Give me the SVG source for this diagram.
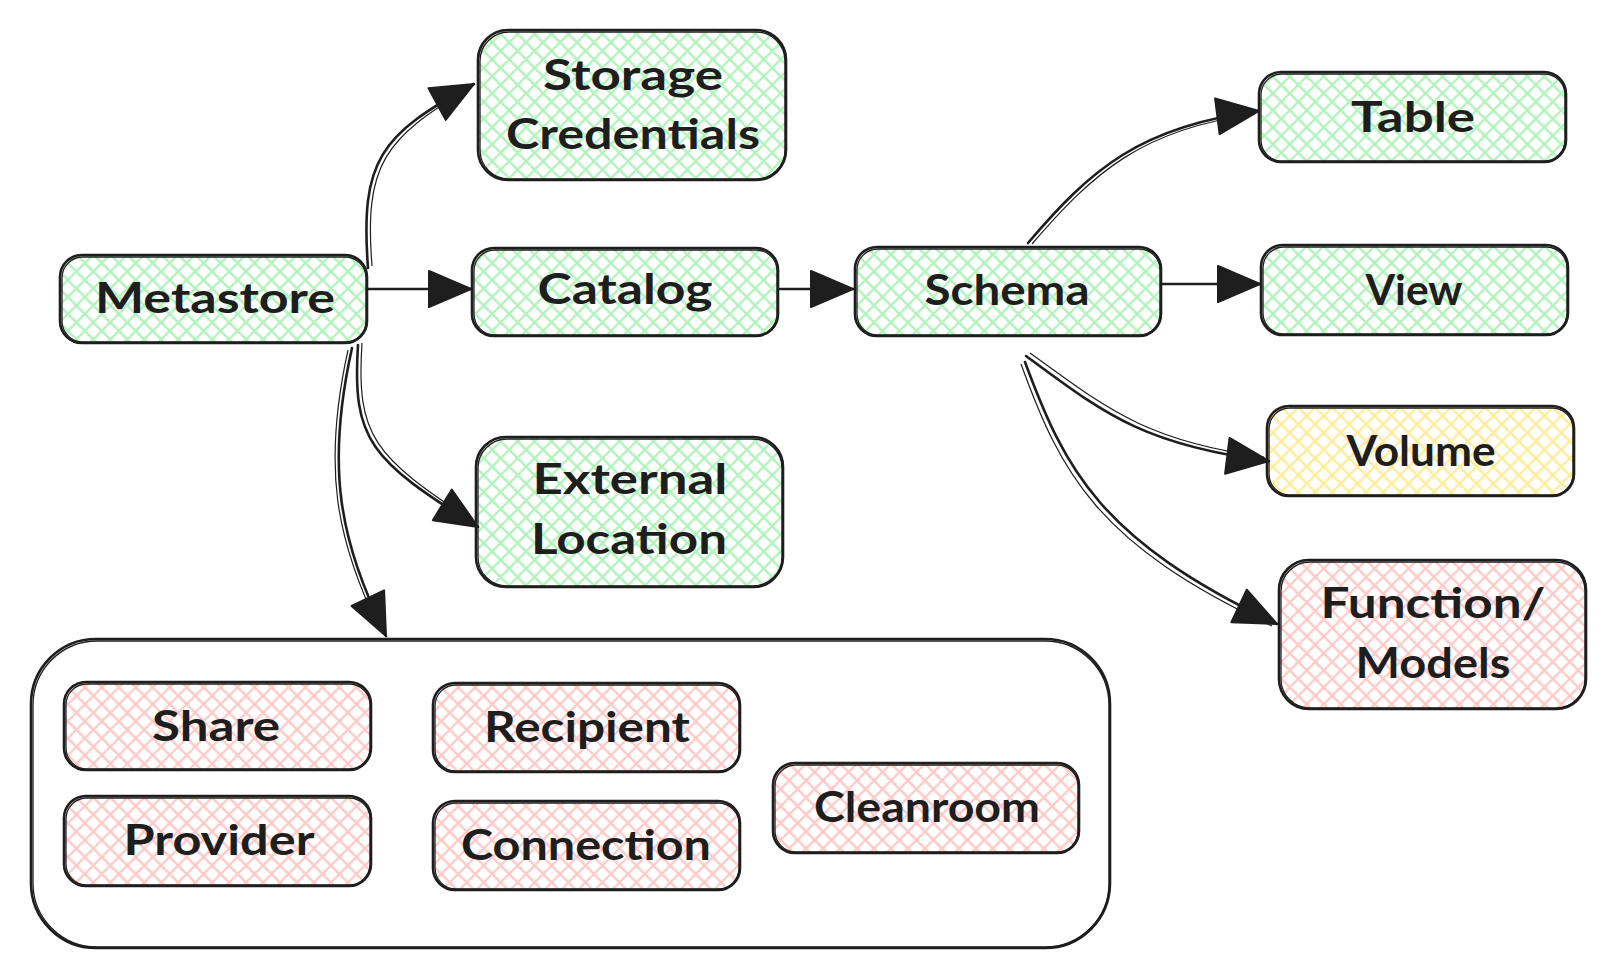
<svg xmlns="http://www.w3.org/2000/svg" width="1615" height="979" viewBox="0 0 1615 979">
<style>
.box{stroke:#1e1e1e;stroke-width:2.6;stroke-linejoin:round}
.box2{fill:none;stroke:#1e1e1e;stroke-width:1.3}
.lbl{font-family:Lato,"Noto Sans",sans-serif;font-weight:700;font-size:42px;fill:#1e1e1e;text-anchor:middle}
.conn{fill:none;stroke:#1e1e1e;stroke-width:2.6;stroke-linecap:round}
.conn2{fill:none;stroke:#1e1e1e;stroke-width:1.2}
</style>
<defs>
<pattern id="hg" patternUnits="userSpaceOnUse" width="12" height="12" patternTransform="rotate(45)">
<rect width="12" height="12" fill="#ffffff"/>
<path d="M6 0V12M0 6H12" stroke="#b2f2bb" stroke-width="2.3"/>
</pattern>
<pattern id="hy" patternUnits="userSpaceOnUse" width="12" height="12" patternTransform="rotate(45)">
<rect width="12" height="12" fill="#ffffff"/>
<path d="M6 0V12M0 6H12" stroke="#ffec99" stroke-width="2.3"/>
</pattern>
<pattern id="hr" patternUnits="userSpaceOnUse" width="12" height="12" patternTransform="rotate(45)">
<rect width="12" height="12" fill="#ffffff"/>
<path d="M6 0V12M0 6H12" stroke="#ffc9c9" stroke-width="2.3"/>
</pattern>
<marker id="ah" markerUnits="userSpaceOnUse" markerWidth="46" markerHeight="42" refX="44" refY="20" orient="auto">
<path d="M2 2 L44 20 L2 38 Z" fill="#1e1e1e" stroke="#1e1e1e" stroke-width="2" stroke-linejoin="round"/>
</marker>
</defs>
<rect width="1615" height="979" fill="#ffffff"/>

<g id="container">
<rect class="box" x="31" y="639" width="1079" height="309" rx="65" fill="none"/>
<rect class="box2" x="33" y="641" width="1076" height="306" rx="64"/>
</g>

<g id="metastore">
<rect class="box" x="60" y="255" width="307" height="88" rx="22" fill="url(#hg)"/>
<rect class="box2" x="62" y="257" width="304" height="85" rx="21"/>
<text class="lbl" x="215" y="313" textLength="240" lengthAdjust="spacingAndGlyphs">Metastore</text>
</g>
<g id="storage-credentials">
<rect class="box" x="478" y="30" width="308" height="150" rx="30" fill="url(#hg)"/>
<rect class="box2" x="480" y="32" width="305" height="147" rx="29"/>
<text class="lbl" x="633" y="90" textLength="180" lengthAdjust="spacingAndGlyphs">Storage</text>
<text class="lbl" x="633" y="149" textLength="254" lengthAdjust="spacingAndGlyphs">Credentials</text>
</g>
<g id="catalog">
<rect class="box" x="472" y="248" width="306" height="88" rx="22" fill="url(#hg)"/>
<rect class="box2" x="474" y="250" width="303" height="85" rx="21"/>
<text class="lbl" x="625" y="304" textLength="175" lengthAdjust="spacingAndGlyphs">Catalog</text>
</g>
<g id="external-location">
<rect class="box" x="476" y="437" width="307" height="150" rx="30" fill="url(#hg)"/>
<rect class="box2" x="478" y="439" width="304" height="147" rx="29"/>
<text class="lbl" x="630" y="494" textLength="195" lengthAdjust="spacingAndGlyphs">External</text>
<text class="lbl" x="629" y="554" textLength="196" lengthAdjust="spacingAndGlyphs">Location</text>
</g>
<g id="schema">
<rect class="box" x="855" y="247" width="306" height="89" rx="22" fill="url(#hg)"/>
<rect class="box2" x="857" y="249" width="303" height="86" rx="21"/>
<text class="lbl" x="1007" y="305" textLength="165" lengthAdjust="spacingAndGlyphs">Schema</text>
</g>
<g id="table">
<rect class="box" x="1259" y="72" width="307" height="90" rx="22" fill="url(#hg)"/>
<rect class="box2" x="1261" y="74" width="304" height="87" rx="21"/>
<text class="lbl" x="1413" y="132" textLength="124" lengthAdjust="spacingAndGlyphs">Table</text>
</g>
<g id="view">
<rect class="box" x="1261" y="245" width="307" height="90" rx="22" fill="url(#hg)"/>
<rect class="box2" x="1263" y="247" width="304" height="87" rx="21"/>
<text class="lbl" x="1414" y="305" textLength="97" lengthAdjust="spacingAndGlyphs">View</text>
</g>
<g id="volume">
<rect class="box" x="1267" y="406" width="307" height="90" rx="22" fill="url(#hy)"/>
<rect class="box2" x="1269" y="408" width="304" height="87" rx="21"/>
<text class="lbl" x="1421" y="466" textLength="149" lengthAdjust="spacingAndGlyphs">Volume</text>
</g>
<g id="function-models">
<rect class="box" x="1279" y="560" width="307" height="149" rx="30" fill="url(#hr)"/>
<rect class="box2" x="1281" y="562" width="304" height="146" rx="29"/>
<text class="lbl" x="1433" y="618" textLength="225" lengthAdjust="spacingAndGlyphs">Function/</text>
<text class="lbl" x="1433" y="678" textLength="155" lengthAdjust="spacingAndGlyphs">Models</text>
</g>
<g id="share">
<rect class="box" x="64" y="682" width="307" height="88" rx="22" fill="url(#hr)"/>
<rect class="box2" x="66" y="684" width="304" height="85" rx="21"/>
<text class="lbl" x="216" y="741" textLength="128" lengthAdjust="spacingAndGlyphs">Share</text>
</g>
<g id="recipient">
<rect class="box" x="433" y="683" width="307" height="89" rx="22" fill="url(#hr)"/>
<rect class="box2" x="435" y="685" width="304" height="86" rx="21"/>
<text class="lbl" x="587" y="742" textLength="206" lengthAdjust="spacingAndGlyphs">Recipient</text>
</g>
<g id="provider">
<rect class="box" x="64" y="796" width="307" height="90" rx="22" fill="url(#hr)"/>
<rect class="box2" x="66" y="798" width="304" height="87" rx="21"/>
<text class="lbl" x="219" y="855" textLength="191" lengthAdjust="spacingAndGlyphs">Provider</text>
</g>
<g id="connection">
<rect class="box" x="433" y="801" width="307" height="89" rx="22" fill="url(#hr)"/>
<rect class="box2" x="435" y="803" width="304" height="86" rx="21"/>
<text class="lbl" x="586" y="860" textLength="250" lengthAdjust="spacingAndGlyphs">Connection</text>
</g>
<g id="cleanroom">
<rect class="box" x="773" y="763" width="306" height="90" rx="22" fill="url(#hr)"/>
<rect class="box2" x="775" y="765" width="303" height="87" rx="21"/>
<text class="lbl" x="927" y="822" textLength="226" lengthAdjust="spacingAndGlyphs">Cleanroom</text>
</g>

<g id="connectors">
<path class="conn" d="M368 268 C360 160, 380 135, 474 84" marker-end="url(#ah)"/>
<path class="conn2" d="M372 266 C364 165, 384 138, 470 88"/>
<path class="conn" d="M368 289 L471 289" marker-end="url(#ah)"/>
<path class="conn" d="M358 345 C352 440, 370 460, 478 527" marker-end="url(#ah)"/>
<path class="conn2" d="M362 343 C356 436, 373 456, 474 522"/>
<path class="conn" d="M352 348 C325 470, 340 540, 386 636" marker-end="url(#ah)"/>
<path class="conn2" d="M348 350 C322 468, 336 540, 380 630"/>
<path class="conn" d="M780 289 L853 289" marker-end="url(#ah)"/>
<path class="conn" d="M1028 243 C1090 170, 1140 126, 1259 111" marker-end="url(#ah)"/>
<path class="conn2" d="M1032 244 C1094 172, 1142 129, 1255 114"/>
<path class="conn" d="M1162 284 L1260 284" marker-end="url(#ah)"/>
<path class="conn" d="M1026 356 C1100 410, 1140 445, 1269 461" marker-end="url(#ah)"/>
<path class="conn2" d="M1030 353 C1104 406, 1143 441, 1264 457"/>
<path class="conn" d="M1025 362 C1065 470, 1100 540, 1277 624" marker-end="url(#ah)"/>
<path class="conn2" d="M1021 364 C1061 474, 1097 544, 1272 626"/>
</g>
</svg>
